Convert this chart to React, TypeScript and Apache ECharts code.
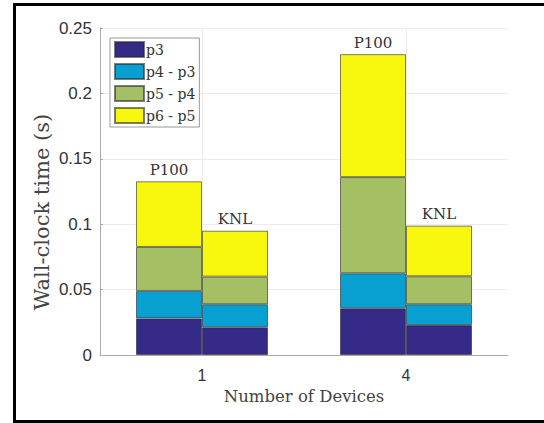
import React, { useEffect, useRef } from "react";
import * as echarts from "echarts";

const categories = ["1", "4"];
const segmentNames = ["p3", "p4 - p3", "p5 - p4", "p6 - p5"];
const segmentColors = ["#352a87", "#089fd1", "#a5bf64", "#f8f80e"];
// segment heights (s) for P100 bars at 1 and 4 devices
const p100P3 = [0.028, 0.0357];
const p100P4P3 = [0.021, 0.0268];
const p100P5P4 = [0.0336, 0.0735];
const p100P6P5 = [0.0502, 0.094];
// segment heights (s) for KNL bars at 1 and 4 devices
const knlP3 = [0.0212, 0.0229];
const knlP4P3 = [0.0176, 0.0159];
const knlP5P4 = [0.0211, 0.0214];
const knlP6P5 = [0.0351, 0.0387];
const deviceLabels = ["P100", "KNL"];
const yAxisTitle = "Wall-clock time (s)";

const SERIF = "'DejaVu Serif', 'Liberation Serif', serif";
const SANS = "'Liberation Sans', Arial, sans-serif";

export default function App() {
  const ref = useRef<HTMLDivElement>(null);
  useEffect(() => {
    if (!ref.current) return;
    const chart = echarts.init(ref.current, undefined, { renderer: "svg" });
    const groups = [
      { stack: deviceLabels[0], data: [p100P3, p100P4P3, p100P5P4, p100P6P5] },
      { stack: deviceLabels[1], data: [knlP3, knlP4P3, knlP5P4, knlP6P5] },
    ];
    const series: any[] = [];
    groups.forEach((g) => {
      g.data.forEach((vals, i) => {
        series.push({
          type: "bar",
          name: segmentNames[i],
          stack: g.stack,
          data: vals,
          barWidth: 66,
          barGap: "0%",
          itemStyle: {
            color: segmentColors[i],
            borderColor: "rgba(40,40,40,0.6)",
            borderWidth: 1,
          },
          label:
            i === 3
              ? {
                  show: true,
                  position: "top",
                  distance: 4,
                  formatter: g.stack,
                  fontFamily: SERIF,
                  fontSize: 15,
                  color: "#333",
                }
              : { show: false },
        });
      });
    });
    chart.setOption({
      animation: false,
      backgroundColor: "#fff",
      grid: { left: 100, right: 36, top: 28, bottom: 68 },
      legend: {
        data: segmentNames,
        orient: "vertical",
        left: 110,
        top: 38,
        padding: [3, 4, 3, 4],
        itemWidth: 29,
        itemHeight: 15,
        itemGap: 5,
        borderColor: "#999",
        borderWidth: 1,
        backgroundColor: "#fff",
        icon: "rect",
        textStyle: { fontFamily: SERIF, fontSize: 14, color: "#333", padding: [0, 0, 0, -3] },
      },
      xAxis: {
        type: "category",
        data: categories,
        name: "Number of Devices",
        nameLocation: "middle",
        nameGap: 31,
        nameTextStyle: { fontFamily: SERIF, fontSize: 16.5, color: "#444" },
        axisLine: { lineStyle: { color: "#aaa" } },
        axisTick: { show: false },
        axisLabel: { fontFamily: SANS, fontSize: 16, color: "#333", margin: 12 },
        splitLine: { show: true, alignWithLabel: true, lineStyle: { color: "#ececec" } },
      },
      yAxis: {
        type: "value",
        min: 0,
        max: 0.25,
        interval: 0.05,
        axisLine: { show: true, lineStyle: { color: "#aaa" } },
        axisTick: { show: true, inside: true, length: 3, lineStyle: { color: "#aaa" } },
        axisLabel: { fontFamily: SANS, fontSize: 17, color: "#333", margin: 8 },
        splitLine: { show: true, lineStyle: { color: "#ececec" } },
      },
      graphic: [
        {
          type: "text",
          x: 42,
          y: 212,
          rotation: Math.PI / 2,
          silent: true,
          style: {
            text: yAxisTitle,
            fontFamily: SERIF,
            fontSize: 21,
            fill: "#444",
            align: "center",
            verticalAlign: "middle",
          },
        },
        {
          type: "rect",
          shape: { x: 14.5, y: 4.5, width: 600, height: 417 },
          style: { fill: "none", stroke: "#000", lineWidth: 3 },
          silent: true,
          z: 100,
        },
      ],
      series,
    });
    return () => chart.dispose();
  }, []);
  return (
    <div
      ref={ref}
      style={{ position: "fixed", left: 0, top: 0, width: 544, height: 423, background: "#fff" }}
    />
  );
}
